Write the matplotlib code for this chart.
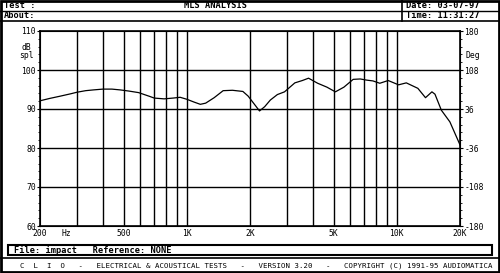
import numpy as np
import matplotlib
matplotlib.use("Agg")
import matplotlib.pyplot as plt
from matplotlib.patches import Rectangle

# frequency response (Hz, dB spl)
freq_hz = [200, 222, 250, 280, 300, 330, 360, 399, 440, 481, 530, 590, 668,
           700, 780, 860, 930, 1000, 1080, 1160, 1230, 1350, 1490, 1650, 1850,
           1960, 2100, 2220, 2350, 2500, 2700, 2920, 3270, 3550, 3800, 4200,
           4650, 5100, 5600, 6200, 6700, 7200, 7700, 8300, 9100, 10200, 11100,
           12600, 13700, 14700, 15200, 16300, 17900, 20000]
spl_db = [92.1, 92.7, 93.3, 93.9, 94.3, 94.7, 94.9, 95.1, 95.1, 94.9, 94.6, 94.2,
          93.2, 92.8, 92.6, 92.8, 93.0, 92.5, 91.8, 91.2, 91.5, 92.9, 94.7, 94.8,
          94.5, 93.3, 91.2, 89.5, 90.6, 92.3, 93.7, 94.4, 96.7, 97.3, 97.9, 96.6,
          95.6, 94.4, 95.6, 97.6, 97.7, 97.4, 97.2, 96.6, 97.3, 96.2, 96.7,
          95.3, 92.9, 94.4, 93.8, 89.7, 86.7, 80.8]

db_ticks = [60, 70, 80, 90, 100, 110]
deg_labels = ["-180", "-108", "-36", "36", "108", "180"]
freq_ticks = [200, 500, 1000, 2000, 5000, 10000, 20000]
freq_labels = ["200", "500", "1K", "2K", "5K", "10K", "20K"]
grid_freqs = [300, 400, 500, 600, 700, 800, 900, 1000, 2000, 3000, 4000,
              5000, 6000, 7000, 8000, 9000, 10000]

W, H = 500, 273
mono = "DejaVu Sans Mono"

fig = plt.figure(figsize=(W / 100, H / 100), dpi=100)
fig.patch.set_facecolor("white")

# frame and header boxes, drawn in pixel coords
bg = fig.add_axes([0, 0, 1, 1])
bg.set_xlim(0, W)
bg.set_ylim(H, 0)
bg.axis("off")
bg.add_patch(Rectangle((1, 1), W - 2, H - 2, fill=False, lw=2, color="black"))
bg.plot([0, W], [10.5, 10.5], color="black", lw=1)
bg.plot([0, W], [20.5, 20.5], color="black", lw=1.2)
bg.plot([402, 402], [0, 20.5], color="black", lw=1.2)
bg.plot([0, W], [257.5, 257.5], color="black", lw=1.2)
bg.add_patch(Rectangle((8, 244.5), 484, 10.5, fill=False, lw=1.5, color="black"))

hdr = dict(family=mono, fontsize=6.2, fontweight="bold", va="center")
bg.text(4, 6, "Test :", ha="left", **hdr)
bg.text(216, 6, "MLS ANALYSIS", ha="center", **hdr)
bg.text(406, 6, "Date: 03-07-97", ha="left", **hdr)
bg.text(4, 16, "About:", ha="left", **hdr)
bg.text(406, 16, "Time: 11:31:27", ha="left", **hdr)
bg.text(14, 250.2, "File: impact   Reference: NONE", ha="left", **hdr)
bg.text(256, 265.5,
        "C  L  I  O   -   ELECTRICAL & ACOUSTICAL TESTS   -   VERSION 3.20   -   "
        "COPYRIGHT (C) 1991-95 AUDIOMATICA",
        ha="center", family=mono, fontsize=5.3, va="center")

# measurement plot
left, top, right, bottom = 40, 31, 460, 226
ax = fig.add_axes([left / W, (H - bottom) / H, (right - left) / W, (bottom - top) / H])
ax.set_xscale("log")
ax.set_xlim(200, 20000)
ax.set_ylim(60, 110)
for f in grid_freqs:
    ax.axvline(f, color="black", lw=1, zorder=1)
for d in db_ticks[1:-1]:
    ax.axhline(d, color="black", lw=1, zorder=1)
ax.plot(freq_hz, spl_db, color="black", lw=0.9, zorder=3)

ax.set_xticks(freq_ticks)
ax.set_xticklabels(freq_labels)
ax.xaxis.set_minor_locator(matplotlib.ticker.NullLocator())
ax.set_yticks(db_ticks)
ax.set_yticklabels([str(d) for d in db_ticks])
ax.set_yticks(np.arange(60, 111, 2), minor=True)
ax.tick_params(axis="x", length=0, pad=2, labelsize=5.8)
ax.tick_params(axis="y", which="major", length=2, pad=1, labelsize=5.8)
ax.tick_params(axis="y", which="minor", length=1.2)
for lab in ax.get_xticklabels() + ax.get_yticklabels():
    lab.set_family(mono)
for s in ax.spines.values():
    s.set_linewidth(1.2)

ax2 = ax.twinx()
ax2.set_ylim(-180, 180)
ax2.set_yticks(np.linspace(-180, 180, 6))
ax2.set_yticklabels(deg_labels)
ax2.set_yticks(np.arange(-180, 181, 14.4), minor=True)
ax2.tick_params(axis="y", which="major", length=2, pad=1, labelsize=5.8)
ax2.tick_params(axis="y", which="minor", length=1.2)
for lab in ax2.get_yticklabels():
    lab.set_family(mono)

small = dict(family=mono, fontsize=5.8)
bg.text(62, 234, "Hz", ha="left", va="center", **small)
bg.text(21, 47, "dB", ha="left", va="center", **small)
bg.text(19, 56, "spl", ha="left", va="center", **small)
bg.text(465, 56, "Deg", ha="left", va="center", **small)
bg.text(456, 35, "Clio", ha="right", va="center", **small)

fig.savefig("out.png", dpi=100)
